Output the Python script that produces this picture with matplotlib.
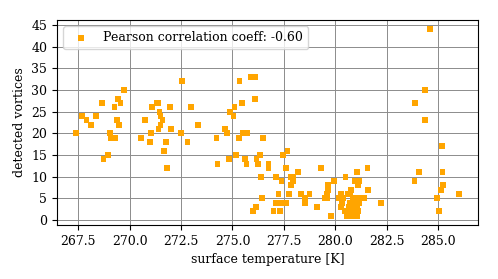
import matplotlib
matplotlib.use("Agg")
import matplotlib.pyplot as plt

plt.rcParams['font.family'] = 'DejaVu Serif'
plt.rcParams['font.size'] = 9

# surface temperature [K] and detected vortices
temperature = [
    267.4, 267.68, 267.9, 268.13, 268.38, 268.64, 268.73, 268.96, 269.06, 269.11,
    269.29, 269.27, 269.38, 269.43, 269.5, 269.55, 269.74,
    270.57, 270.73, 270.99, 271.04, 271.1, 271.3, 271.4, 271.45, 271.5,
    271.6, 271.5, 271.4, 271.67, 271.77, 271.83, 271.96, 272.0, 272.5,
    272.56, 272.81, 272.99, 273.31,
    274.22, 274.27, 274.64, 274.72, 274.82, 274.89, 275.05, 275.1, 275.16, 275.31,
    275.34, 275.47, 275.49, 275.6, 275.68, 275.71, 275.9, 276.0, 276.09, 276.1,
    276.15, 276.17, 276.24, 276.33, 276.38, 276.45, 276.49, 276.75, 276.75,
    277.0, 277.11, 277.13, 277.24, 277.32, 277.32, 277.39, 277.47, 277.61, 277.61,
    277.68, 277.76, 277.86, 277.95, 277.94, 277.86, 278.2, 278.34, 278.54, 278.54,
    278.75,
    279.1, 279.29, 279.65, 279.65, 279.6, 279.6, 279.5, 279.79, 279.95,
    280.27, 280.49, 280.6, 280.73, 280.75, 280.96, 281.15, 281.12, 281.04, 281.56,
    281.59, 281.41,
    280.16, 280.37, 280.86, 281.06, 281.25,
    280.32, 280.73, 280.97, 281.14,
    280.29, 280.65, 280.93, 281.06,
    280.45, 280.7, 280.89, 281.09,
    280.57, 280.83, 281.06,
    282.22,
    283.85, 283.86, 284.06, 284.35, 284.35, 284.59, 284.95, 285.06, 285.15, 285.18,
    285.21, 285.23, 286.01,
]
vortices = [
    20, 24, 23, 22, 24, 27, 14, 15, 20, 19,
    19, 26, 23, 28, 22, 27, 30,
    19, 23, 18, 20, 26, 27, 27, 25, 24,
    23, 22, 21, 16, 18, 12, 26, 21, 20,
    32, 18, 26, 22,
    19, 13, 21, 20, 14, 25, 24, 26, 15, 19,
    32, 27, 20, 14, 13, 20, 33, 2, 28, 33,
    3, 14, 13, 15, 10, 5, 19, 13, 12,
    2, 4, 10, 6, 4, 2, 9, 15, 4, 12,
    16, 6, 10, 10, 9, 8, 11, 6, 5, 4,
    6,
    3, 12, 8, 7, 6, 5, 5, 1, 9,
    6, 10, 6, 6, 7, 9, 9, 8, 11, 12,
    7, 5,
    5, 5, 5, 5, 5,
    4, 4, 4, 4,
    3, 3, 3, 3,
    2, 2, 2, 2,
    1, 1, 1,
    4,
    9, 27, 11, 23, 30, 44, 5, 2, 7, 17,
    11, 8, 6,
]
legend_label = 'Pearson correlation coeff: -0.60'

fig = plt.figure(figsize=(4.98, 2.79), dpi=100)
ax = fig.add_axes([0.1145, 0.1935, 0.8454, 0.7348])

ax.scatter(temperature, vortices, marker='s', s=17, color='orange',
           edgecolors='none', label=legend_label, zorder=3)

ax.grid(True, color='0.55', linewidth=0.7)
ax.set_axisbelow(True)
ax.set_yticks(range(0, 50, 5))

ax.set_xlabel('surface temperature [K]')
ax.set_ylabel('detected vortices')
ax.legend(loc='upper left')

fig.savefig('out.png', dpi=100)
